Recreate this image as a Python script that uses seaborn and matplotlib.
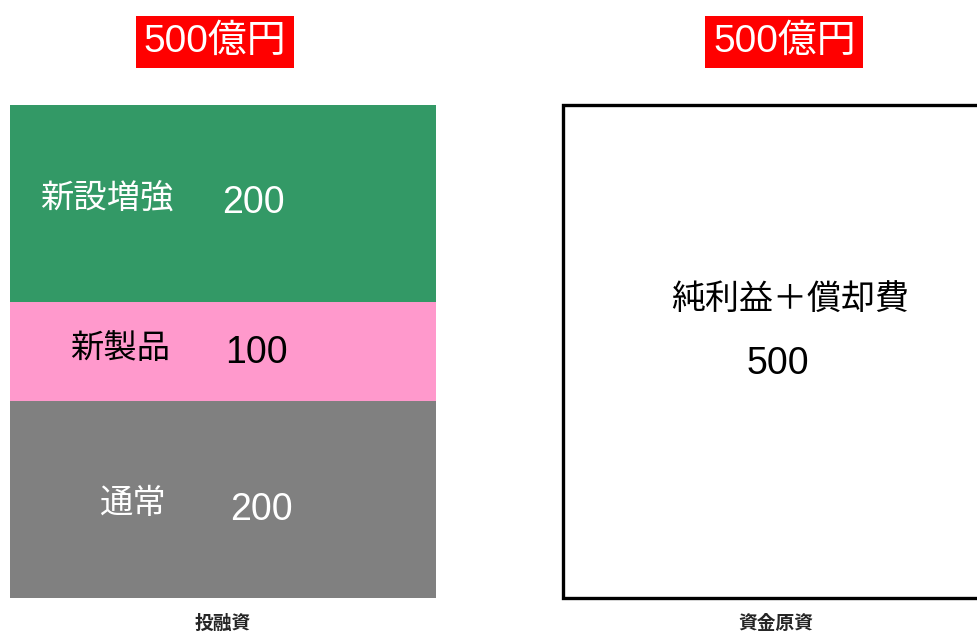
import numpy as np
import pandas as pd
import matplotlib
matplotlib.use("Agg")
import matplotlib.pyplot as plt
import seaborn as sns

# Data
categories = ["投融資", "資金原資"]
totals = ["500億円", "500億円"]
left_segments = ["通常", "新製品", "新設増強"]      # bottom -> top
left_values = [200, 100, 200]
left_colors = ["#808080", "#FF99CC", "#339966"]
left_text_colors = ["white", "black", "white"]
right_segment = "純利益＋償却費"
right_value = 500

# label placement (layout only)
name_x = [-0.103, -0.096, -0.09]
value_x = [0.013, 0.003, -0.002]
name_dy = [-5, 2, 4]
value_dy = [-11, -2, 1]

sns.set_theme(style="white")
plt.rcParams["font.family"] = ["Liberation Sans", "Noto Sans CJK JP", "DejaVu Sans"]

fig = plt.figure(figsize=(9.77, 6.37), dpi=100)
ax = fig.add_axes([0, 39 / 637, 1, 493 / 637])

bar_w = 0.77

# stacked bars: draw cumulative sums from the top layer down
cum = np.cumsum(left_values)
for i in reversed(range(len(left_values))):
    sns.barplot(x=[categories[0]], y=[cum[i]], order=categories, color=left_colors[i],
                width=bar_w, saturation=1, linewidth=0, ax=ax)

n_before = len(ax.patches)
sns.barplot(x=[categories[1]], y=[right_value], order=categories, color="white",
            width=bar_w, saturation=1, edgecolor="black", linewidth=2.4, ax=ax)
for p in ax.patches[n_before:]:
    p.set_clip_on(False)

# segment labels
bottoms = np.concatenate([[0], cum[:-1]])
for i, (name, val, b, tc) in enumerate(zip(left_segments, left_values, bottoms, left_text_colors)):
    mid = b + val / 2
    ax.text(name_x[i], mid + name_dy[i], name, ha="right", va="center", fontsize=24, color=tc)
    ax.text(value_x[i], mid + value_dy[i], str(val), ha="left", va="center", fontsize=27, color=tc)

ax.text(1.025, 301, right_segment, ha="center", va="center", fontsize=24.5, color="black")
ax.text(1.003, 237, str(right_value), ha="center", va="center", fontsize=27, color="black")

# total boxes above the bars
for i, t in enumerate(totals):
    ax.text(i + (-0.015 if i == 0 else 0.015), 564, t, ha="center", va="center",
            fontsize=28, color="white", clip_on=False,
            bbox=dict(boxstyle="square,pad=0.2", facecolor="#FF0000", edgecolor="none"))

ax.set_xlim(-223 / 553, (977 - 223) / 553)
ax.set_ylim(0, 500)
ax.set_yticks([])
ax.set_xlabel("")
ax.set_ylabel("")
ax.tick_params(axis="x", length=0, pad=12)
for lab in ax.get_xticklabels():
    lab.set_fontsize(13.5)
    lab.set_fontweight("bold")
sns.despine(ax=ax, left=True, bottom=True)

fig.savefig("out.png", dpi=100)
